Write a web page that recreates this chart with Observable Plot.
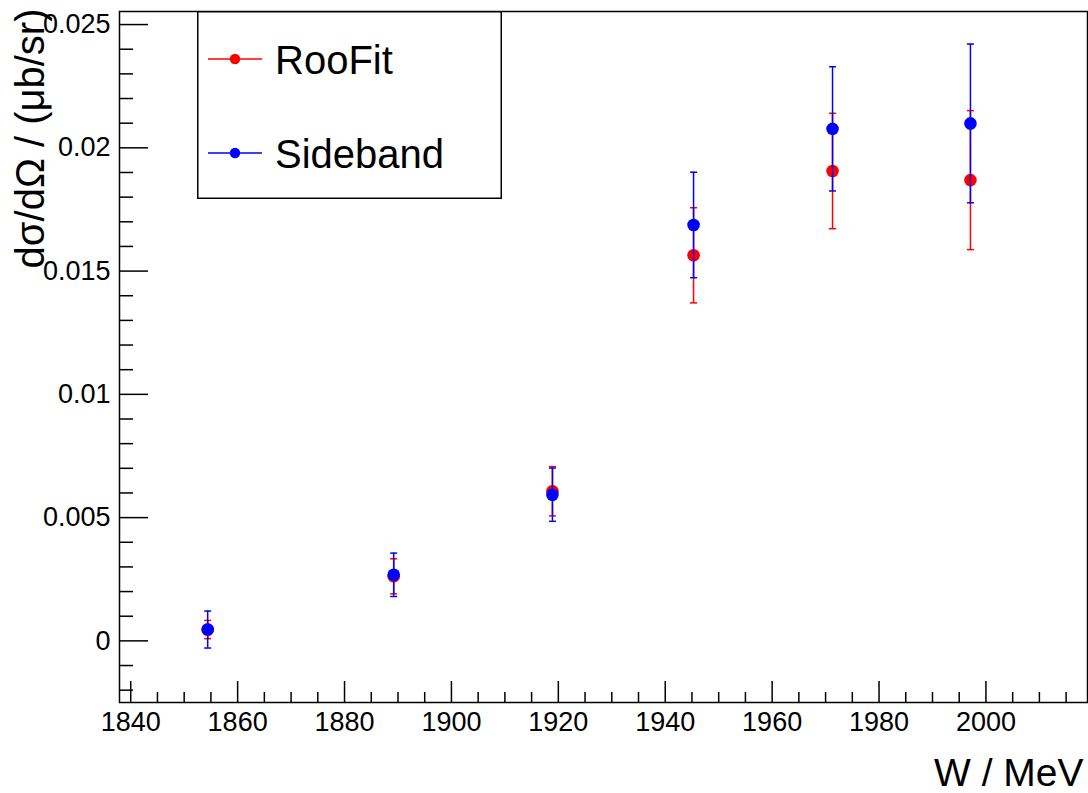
<!DOCTYPE html>
<html>
<head>
<meta charset="utf-8">
<script src="https://cdn.jsdelivr.net/npm/d3@7"></script>
<script src="https://cdn.jsdelivr.net/npm/@observablehq/plot@0.6"></script>
<style>
  html, body { margin: 0; padding: 0; background: #fff; }
  #wrap { position: relative; width: 1088px; height: 793px; font-family: "Liberation Sans", Arial, sans-serif; }
  #legend { position: absolute; left: 197px; top: 11px; }
</style>
</head>
<body>
<div id="wrap"></div>
<script>
// ---- data ----
const W = [1854.4, 1889.2, 1918.9, 1945.3, 1971.3, 1997.1];
const roofit = [0.00046, 0.00262, 0.00607, 0.01564, 0.01906, 0.01869];
const roofitErr = [0.00037, 0.00071, 0.00100, 0.00193, 0.00234, 0.00282];
const sideband = [0.00046, 0.00268, 0.00593, 0.01687, 0.02077, 0.02099];
const sidebandErr = [0.00075, 0.00088, 0.00108, 0.00214, 0.00252, 0.00322];
const seriesNames = ["RooFit", "Sideband"];
const seriesColors = ["#ff0000", "#0000ff"];

// ---- axis ticks ----
const xMajor = [1840, 1860, 1880, 1900, 1920, 1940, 1960, 1980, 2000];
const xMinor = [1845, 1850, 1855, 1865, 1870, 1875, 1885, 1890, 1895, 1905, 1910, 1915,
                1925, 1930, 1935, 1945, 1950, 1955, 1965, 1970, 1975, 1985, 1990, 1995,
                2005, 2010, 2015];
const yMajor = [0, 0.005, 0.01, 0.015, 0.02, 0.025];
const yMinor = [-0.002, -0.001, 0.001, 0.002, 0.003, 0.004, 0.006, 0.007, 0.008, 0.009,
                0.011, 0.012, 0.013, 0.014, 0.016, 0.017, 0.018, 0.019,
                0.021, 0.022, 0.023, 0.024];
const xTitle = "W / MeV";
const yTitle = "dσ/dΩ / (μb/sr)";

// ---- build tables ----
const rows = (vals, errs, name) => W.map((w, i) => ({W: w, v: vals[i], e: errs[i], s: name}));
const dataR = rows(roofit, roofitErr, seriesNames[0]);
const dataS = rows(sideband, sidebandErr, seriesNames[1]);

const width = 1088, height = 793;
const mL = 119, mR = 1, mT = 11, mB = 91;
const plotW = width - mL - mR, plotH = height - mT - mB;
const font = "'Liberation Sans', Arial, sans-serif";

const capSymbol = {
  draw(context, size) {
    const r = Math.sqrt(size / Math.PI);
    context.moveTo(-r, 0);
    context.lineTo(r, 0);
  }
};

function seriesMarks(data, color) {
  return [
    Plot.ruleX(data, {x: "W", y1: d => d.v - d.e, y2: d => d.v + d.e, stroke: color, strokeWidth: 1.5}),
    Plot.dot(data, {x: "W", y: d => d.v - d.e, symbol: capSymbol, r: 3.5, stroke: color, strokeWidth: 1.5, fill: "none"}),
    Plot.dot(data, {x: "W", y: d => d.v + d.e, symbol: capSymbol, r: 3.5, stroke: color, strokeWidth: 1.5, fill: "none"}),
    Plot.dot(data, {x: "W", y: "v", r: 6.3, fill: color, stroke: "none"})
  ];
}

const chart = Plot.plot({
  width, height,
  marginLeft: mL, marginRight: mR, marginTop: mT, marginBottom: mB,
  style: {fontFamily: font, background: "#fff", overflow: "visible"},
  x: {domain: [1837.9, 2019.0]},
  y: {domain: [-0.0025, 0.02553]},
  marks: [
    // tick labels
    Plot.axisX({ticks: xMajor, tickSize: 0, tickPadding: 9, fontSize: 27, label: null,
                tickFormat: d3.format("d"), fill: "black"}),
    Plot.axisY({ticks: yMajor, tickSize: 0, tickPadding: 9, fontSize: 27, label: null,
                tickFormat: d3.format("~g"), fill: "black"}),
    // inward ticks
    Plot.tickX(xMajor, {x: d => d, insetTop: plotH - 21, stroke: "black", strokeWidth: 1.5}),
    Plot.tickX(xMinor, {x: d => d, insetTop: plotH - 10, stroke: "black", strokeWidth: 1.5}),
    Plot.tickY(yMajor, {y: d => d, insetRight: plotW - 29, stroke: "black", strokeWidth: 1.5}),
    Plot.tickY(yMinor, {y: d => d, insetRight: plotW - 14, stroke: "black", strokeWidth: 1.5}),
    // axis titles
    Plot.text([xTitle], {text: d => d, frameAnchor: "bottom-right", textAnchor: "end", lineAnchor: "bottom",
                         dx: -4, dy: 83, fontSize: 39, fill: "black"}),
    Plot.text([yTitle], {text: d => d, frameAnchor: "top-left", textAnchor: "end", lineAnchor: "bottom",
                         rotate: -90, dx: -76, dy: -3, fontSize: 40, fill: "black"}),
    // data
    ...seriesMarks(dataR, seriesColors[0]),
    ...seriesMarks(dataS, seriesColors[1]),
    Plot.frame({stroke: "black", strokeWidth: 1.5})
  ]
});

const wrap = document.getElementById("wrap");
wrap.appendChild(chart);

// legend box (inside the frame, as in the reference)
const lw = 305, lh = 188;
const leg = d3.create("svg").attr("id", "legend").attr("width", lw).attr("height", lh)
  .style("font-family", font);
leg.append("rect").attr("x", 0.75).attr("y", 0.75).attr("width", lw - 1.5).attr("height", lh - 1.5)
  .attr("fill", "white").attr("stroke", "black").attr("stroke-width", 1.5);
const rowY = [48, 142];
seriesNames.forEach((name, i) => {
  const g = leg.append("g").attr("transform", `translate(0,${rowY[i]})`);
  g.append("line").attr("x1", 11).attr("x2", 65).attr("y1", 0).attr("y2", 0)
    .attr("stroke", seriesColors[i]).attr("stroke-width", 1.5);
  g.append("circle").attr("cx", 38).attr("cy", 0).attr("r", 5.2).attr("fill", seriesColors[i]);
  g.append("text").attr("x", 78).attr("y", 14.5).attr("font-size", 40).attr("fill", "black").text(name);
});
wrap.appendChild(leg.node());
</script>
</body>
</html>
